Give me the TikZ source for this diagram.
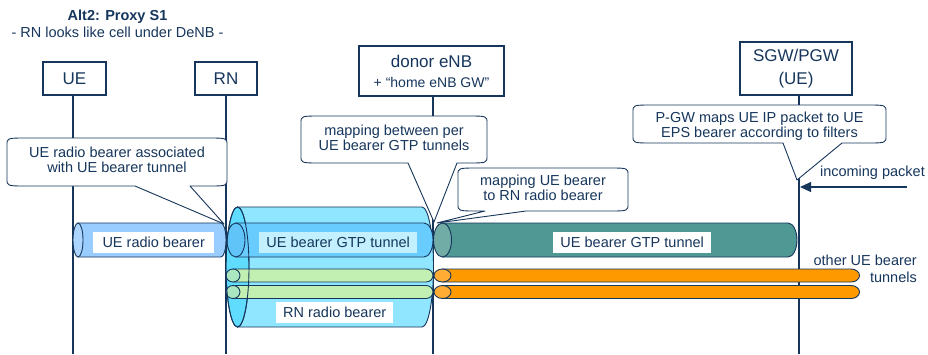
\documentclass[tikz,border=0pt]{standalone}
\usepackage{fontspec}
\setmainfont{Liberation Sans}
\usetikzlibrary{arrows.meta}

\definecolor{navy}{RGB}{22,54,92}
\definecolor{uebody}{RGB}{153,204,255}
\definecolor{uecap}{RGB}{172,214,255}
\definecolor{rnbody}{RGB}{144,230,255}
\definecolor{rncap}{RGB}{96,220,255}
\definecolor{gtpbody}{RGB}{104,204,255}
\definecolor{gtpcap}{RGB}{96,196,248}
\definecolor{gtplabel}{RGB}{194,240,255}
\definecolor{grnbody}{RGB}{194,240,178}
\definecolor{grncap}{RGB}{170,230,192}
\definecolor{tealbody}{RGB}{80,152,148}
\definecolor{tealcap}{RGB}{114,172,166}
\definecolor{orgbody}{RGB}{255,153,0}
\definecolor{orgcap}{RGB}{255,172,52}

\tikzset{
  every node/.style={text=navy},
  entity/.style={draw=navy, line width=1.1pt, fill=white, inner sep=0pt,
                 font=\fontsize{17}{23}\selectfont, align=center},
  lifeline/.style={draw=navy, line width=1.1pt},
  tubeline/.style={draw=navy, line width=0.9pt},
  calloutline/.style={draw=navy, line width=0.9pt, fill=white, line join=round},
  calltext/.style={font=\fontsize{14.5}{15}\selectfont, align=center, inner sep=0pt},
  tubelabel/.style={font=\fontsize{14.5}{16}\selectfont, inner sep=0pt, inner xsep=3pt,
                    minimum height=21pt, align=left, anchor=west},
  plaintext/.style={font=\fontsize{14.5}{17}\selectfont, inner sep=0pt},
}

% tube: left cap centre x, right body end x, centre y, x radius, y radius, body, cap
\newcommand\bearertube[7]{%
  \filldraw[tubeline, fill=#6] ({#1},{-#3+#5}) -- ({#2},{-#3+#5})
    arc[start angle=90, end angle=-90, x radius=#4, y radius=#5]
    -- ({#1},{-#3-#5}) -- cycle;
  \filldraw[tubeline, fill=#7] ({#1},{-#3}) ellipse[x radius=#4, y radius=#5];
}

% speech box: left, top, right, bottom, wedge base left, wedge base right, tip x, tip y
\newcommand\speechbox[8]{%
  \filldraw[calloutline]
    ({#1},{-#2-7}) .. controls ({#1},{-#2}) .. ({#1+20},{-#2})
    -- ({#3-20},{-#2}) .. controls ({#3},{-#2}) .. ({#3},{-#2-7})
    -- ({#3},{-#4+7}) .. controls ({#3},{-#4}) .. ({#3-20},{-#4})
    -- ({#6},{-#4}) -- ({#7},{-#8}) -- ({#5},{-#4})
    -- ({#1+20},{-#4}) .. controls ({#1},{-#4}) .. ({#1},{-#4+7}) -- cycle;
}

\begin{document}
\begin{tikzpicture}[x=1pt, y=1pt]
\useasboundingbox (0,0) rectangle (928,-354);

% heading
\node[font=\fontsize{14.5}{17}\selectfont, align=center, inner sep=0pt] (title) at (117.5,-23.5)
  {\textbf{Alt2: Proxy S1}\\- RN looks like cell under DeNB -};

% network entities
\node[entity, minimum width=63pt, minimum height=33pt] (ue) at (74.5,-78.5) {UE};
\node[entity, minimum width=62pt, minimum height=33pt] (rn) at (226,-78.5) {RN};
\node[entity, minimum width=145pt, minimum height=50pt] (denb) at (431.5,-71)
  {donor eNB\\[-3pt]{\fontsize{14}{16}\selectfont + “home eNB GW”}};
\node[entity, minimum width=112pt, minimum height=53pt] (gw) at (796,-68.5) {SGW/PGW\\(UE)};

\coordinate (bot) at (0,-354);

% lifelines
\draw[lifeline] ([xshift=-1.5pt]ue.south) -- ([xshift=-1.5pt]ue.south |- bot);
\draw[lifeline] (rn.south) -- (rn.south |- bot);
\draw[lifeline] ([xshift=1.5pt]denb.south) -- ([xshift=1.5pt]denb.south |- bot);
\draw[lifeline] ([xshift=3pt]gw.south) -- ([xshift=3pt]gw.south |- bot);

% UE radio bearer
\bearertube{78}{221}{240}{5}{17}{uebody}{uecap}

% RN radio bearer carrying the per-UE tunnels
\bearertube{237.5}{422}{267}{11.5}{60}{rnbody}{rncap}
\bearertube{236}{424}{240}{9}{17}{gtpbody}{gtpcap}
\bearertube{233}{426}{275.5}{7}{6.5}{grnbody}{grncap}
\bearertube{233}{426}{292}{7}{6.5}{grnbody}{grncap}
\draw[tubeline] (237.5,-267) ellipse[x radius=11.5, y radius=60];

% tunnels towards the gateway
\bearertube{442.5}{788}{240}{9}{17}{tealbody}{tealcap}
\bearertube{442.5}{851}{275.5}{8.5}{6.5}{orgbody}{orgcap}
\bearertube{442.5}{851}{292}{8.5}{6.5}{orgbody}{orgcap}

% tube labels
\node[tubelabel, fill=white, minimum width=121pt] (lue) at (93,-242.5) {UE radio bearer};
\node[tubelabel, fill=gtplabel, minimum width=158pt] (lgtp) at (259,-242.5) {UE bearer GTP tunnel};
\node[tubelabel, fill=white, minimum width=117pt] (lrn) at (276,-312.5) {RN radio bearer};
\node[tubelabel, fill=white, minimum width=158pt] (lteal) at (553,-242.5) {UE bearer GTP tunnel};

% annotations
\speechbox{7}{138}{227}{186}{135}{190}{224}{224}
\node[calltext] (c1) at (117,-160) {UE radio bearer associated\\with UE bearer tunnel};

\speechbox{301}{116}{487}{163}{408}{457}{434}{222}
\node[calltext] (c2) at (394,-138) {mapping between per\\UE bearer GTP tunnels};

\speechbox{458}{168}{628}{211}{485}{526}{437}{223}
\node[calltext] (c3) at (543,-188) {mapping UE bearer\\to RN radio bearer};

\speechbox{633}{105}{886}{143}{783}{842}{797}{180}
\node[calltext] (c4) at (759.5,-126) {P-GW maps UE IP packet to UE\\EPS bearer according to filters};

% incoming packet
\node[plaintext, anchor=east] (inctext) at (925,-173) {incoming packet};
\coordinate (incstart) at (907,-187);
\coordinate (incend) at (800,-187);
\draw[draw=navy, line width=1.1pt, -{Triangle[length=11pt, width=10pt]}] (incstart) -- (incend);

\node[plaintext, anchor=east, align=right] (other) at (917,-268.5) {other UE bearer\\tunnels};
\end{tikzpicture}
\end{document}
